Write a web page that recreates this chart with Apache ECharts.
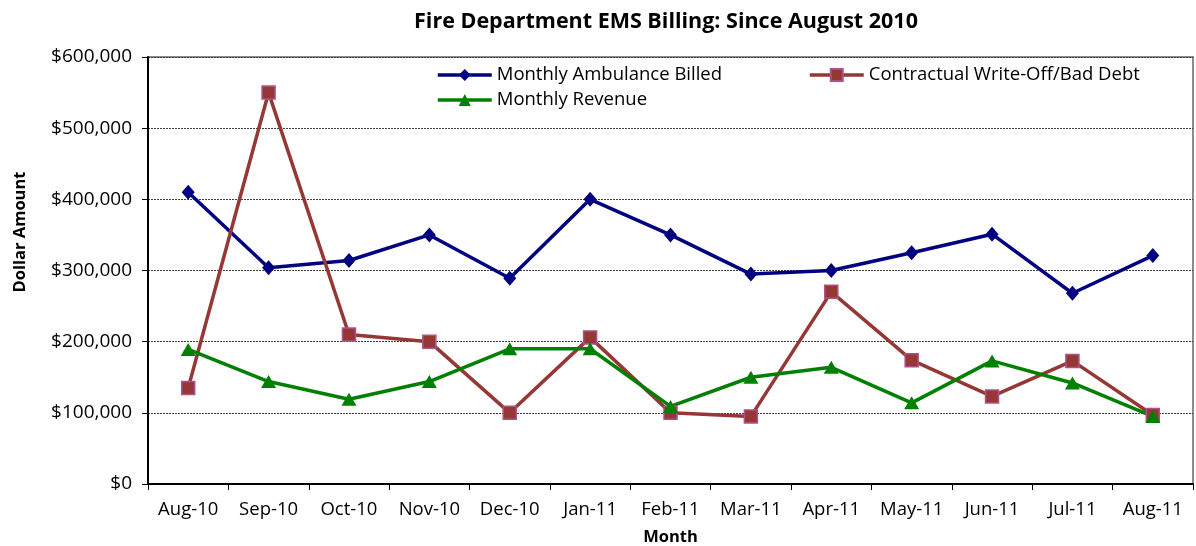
<!DOCTYPE html>
<html>
<head>
<meta charset="utf-8">
<script src="https://cdn.jsdelivr.net/npm/echarts@6/dist/echarts.min.js"></script>
<style>html,body{margin:0;padding:0;background:#fff}#c{width:1196px;height:546px}</style>
</head>
<body>
<div id="c"></div>
<script>
var months = ['Aug-10','Sep-10','Oct-10','Nov-10','Dec-10','Jan-11','Feb-11','Mar-11','Apr-11','May-11','Jun-11','Jul-11','Aug-11'];
var ambulanceBilled = [410000,304000,314000,350000,289000,400000,350000,295000,300000,325000,351000,268000,321000];
var writeOff = [135000,550000,210000,200000,100000,206000,100000,95000,270000,174000,123000,173000,97000];
var revenue = [189000,144000,119000,144000,190000,190000,109000,150000,164000,114000,173000,142000,95000];
var yTicks = [0,100000,200000,300000,400000,500000,600000];

var FONT = '"Open Sans", "Noto Sans", sans-serif';
function money(v){
  var s = String(Math.round(v));
  return '$' + s.replace(/\B(?=(\d{3})+(?!\d))/g, ',');
}
var chart = echarts.init(document.getElementById('c'), null, {renderer:'canvas'});
var legendText = {fontFamily: FONT, fontSize: 18.5, color: '#000', lineHeight: 22};
function leg(name, left, top){
  return {data: [name], left: left, top: top, padding: 0, itemWidth: 54, itemHeight: 15, itemGap: 5,
    textStyle: legendText, lineStyle: {width: 3.5}};
}
chart.setOption({
  animation: false,
  backgroundColor: '#fff',
  title: {
    text: 'Fire Department EMS Billing: Since August 2010',
    left: 661, top: 6, textAlign: 'center',
    textStyle: {fontFamily: FONT, fontSize: 21.5, fontWeight: 'bold', color: '#000'}
  },
  legend: [
    leg('Monthly Ambulance Billed', 436, 64),
    leg('Contractual Write-Off/Bad Debt', 808, 64),
    leg('Monthly Revenue', 436, 89)
  ],
  graphic: [{
    type: 'text', x: 20, y: 232, rotation: Math.PI / 2,
    style: {text: 'Dollar Amount', fontFamily: FONT, fontSize: 16.5, fontWeight: 'bold', fill: '#000', align: 'center', verticalAlign: 'middle'}
  }],
  grid: {left: 148, right: 3, top: 57, bottom: 62, outerBoundsMode: 'none', containLabel: false,
    show: true, borderColor: '#8c8c8c', borderWidth: 2, backgroundColor: '#fff'},
  xAxis: {
    type: 'category', data: months, boundaryGap: true,
    name: 'Month', nameLocation: 'middle', nameGap: 45,
    nameTextStyle: {fontFamily: FONT, fontSize: 16.5, fontWeight: 'bold', color: '#000'},
    axisLine: {lineStyle: {color: '#000', width: 2}},
    axisTick: {show: true, interval: 0, alignWithLabel: false, length: 6, lineStyle: {color: '#000', width: 1}},
    axisLabel: {interval: 0, hideOverlap: false, fontFamily: FONT, fontSize: 18.5, color: '#000', margin: 16}
  },
  yAxis: {
    type: 'value', min: 0, max: 600000, interval: 100000,
    axisLine: {show: true, lineStyle: {color: '#000', width: 2}},
    axisTick: {show: true, length: 6, lineStyle: {color: '#000'}},
    axisLabel: {fontFamily: FONT, fontSize: 19, color: '#000', margin: 16, formatter: function(v){ return yTicks.indexOf(v) >= 0 ? money(v) : ''; }},
    splitLine: {show: true, lineStyle: {color: '#404040', width: 1, type: [2, 1]}}
  },
  series: [
    {name: 'Monthly Ambulance Billed', type: 'line', data: ambulanceBilled,
     symbol: 'diamond', symbolSize: [13, 15],
     lineStyle: {color: '#000080', width: 3.5}, itemStyle: {color: '#000080'}},
    {name: 'Contractual Write-Off/Bad Debt', type: 'line', data: writeOff,
     symbol: 'rect', symbolSize: 13,
     lineStyle: {color: '#953735', width: 3.5}, itemStyle: {color: '#953735', borderColor: '#B0508A', borderWidth: 1.5}},
    {name: 'Monthly Revenue', type: 'line', data: revenue,
     symbol: 'triangle', symbolSize: [15, 13],
     lineStyle: {color: '#008000', width: 3.5}, itemStyle: {color: '#008000'}}
  ]
});
</script>
</body>
</html>
